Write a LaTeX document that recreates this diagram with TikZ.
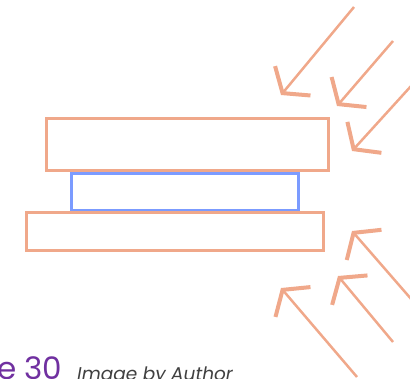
\documentclass[tikz,border=0pt]{standalone}
\usepackage{fontspec}
\setmainfont{Poppins}
\usetikzlibrary{arrows.meta, positioning}
\definecolor{salmon}{HTML}{F0A88A}
\definecolor{cornflower}{HTML}{7B9BFF}
\definecolor{figpurple}{HTML}{7030A0}
\definecolor{capgray}{HTML}{404040}

\begin{document}
\begin{tikzpicture}[
  x=1pt, y=1pt,
  slab/.style={draw=salmon, line width=3pt, outer sep=0pt, inner sep=0pt},
  ray/.style={->, draw=salmon, line width=2.5pt},
  >={Straight Barb[length=16pt, width=46pt, line width=4pt]}]
\clip (0,0) rectangle (410,378);
\node[slab, minimum width=282pt, minimum height=52pt] (top) at (187.8,233.8) {};
\node[slab, draw=cornflower, minimum width=226.6pt, minimum height=36.6pt, below=3.4pt of top, xshift=-2.8pt] (core) {};
\node[slab, minimum width=297pt, minimum height=37.3pt, below=2.7pt of core, xshift=-10.3pt] (base) {};
% rays coming down from the upper right
\coordinate (a1) at (354,371); \coordinate (b1) at (281,283);
\coordinate (a2) at (393,337); \coordinate (b2) at (337,272);
\coordinate (a3) at (412,293); \coordinate (b3) at (352,227);
% rays coming up from the lower right
\coordinate (a4) at (412,78);  \coordinate (b4) at (352,147);
\coordinate (a5) at (393,36);  \coordinate (b5) at (338,102);
\coordinate (a6) at (357,1);   \coordinate (b6) at (281,90);
\foreach \i in {1,...,6}
  \draw[ray] (a\i) -- (b\i);
% caption
\node[anchor=base west, inner sep=0pt, text=figpurple, font=\fontsize{31}{33}\selectfont] (fig) at (-3,-1) {e 30};
\node[anchor=base west, inner sep=0pt, text=capgray, font=\fontsize{18.5}{21}\selectfont\itshape] (credit) at (77,-2.5) {Image by Author};
\end{tikzpicture}
\end{document}
